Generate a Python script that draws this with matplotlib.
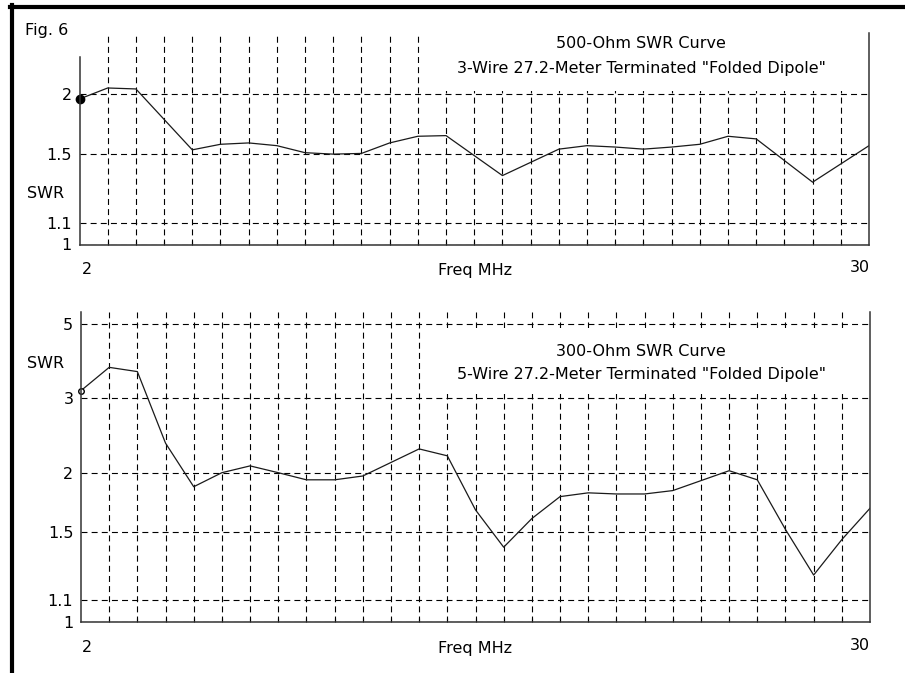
import numpy as np
import matplotlib
matplotlib.use('Agg')
import matplotlib.pyplot as plt
from matplotlib.lines import Line2D
from matplotlib.patches import Rectangle

# values (frequency in MHz, SWR)
freq_500 = [2, 3, 4, 6, 7, 8, 9, 10, 11, 12, 13, 14, 15, 17, 19, 20, 21, 22, 23, 24, 25, 26, 28, 30]
swr_500 = [1.95, 2.06, 2.05, 1.53, 1.57, 1.58, 1.56, 1.51, 1.50, 1.505, 1.58, 1.63, 1.635,
           1.36, 1.535, 1.56, 1.55, 1.535, 1.55, 1.57, 1.63, 1.61, 1.32, 1.56]

freq_300 = [2, 3, 4, 5, 6, 7, 8, 9, 10, 11, 12, 14, 15, 16, 17, 18, 19, 20, 21, 22, 23,
            25, 26, 27, 28, 29, 30]
swr_300 = [3.14, 3.64, 3.54, 2.33, 1.865, 2.0, 2.07, 2.0, 1.93, 1.93, 1.967, 2.26, 2.18,
           1.667, 1.40, 1.60, 1.777, 1.81, 1.80, 1.80, 1.83, 2.02, 1.93, 1.52, 1.233, 1.45, 1.68]

yticks_500 = [1, 1.1, 1.5, 2]
yticks_300 = [1, 1.1, 1.5, 2, 3, 5]
ylabels_500 = ['1', '1.1', '1.5', '2']
ylabels_300 = ['1', '1.1', '1.5', '2', '3', '5']

titles_500 = ['500-Ohm SWR Curve', '3-Wire 27.2-Meter Terminated "Folded Dipole"']
titles_300 = ['300-Ohm SWR Curve', '5-Wire 27.2-Meter Terminated "Folded Dipole"']

W, H = 905, 673
plt.rcParams['font.family'] = 'DejaVu Sans'
plt.rcParams['lines.scale_dashes'] = False
FS = 11.5


# SWR chart scale: linear in reflection coefficient
def fwd(s):
    s = np.asarray(s, float)
    return (s - 1) / (s + 1)


def inv(r):
    r = np.clip(np.asarray(r, float), -0.999, 0.999)
    return (1 + r) / (1 - r)


def box(l, t, r, b):
    return [l / W, 1 - b / H, (r - l) / W, (b - t) / H]


def px(x, y):
    return x / W, 1 - y / H


fig = plt.figure(figsize=(W / 100, H / 100), dpi=100)
fig.patch.set_facecolor('white')

dash = (0, (4.3, 3.0))


def setup(ax, freq, swr, top, yt, yl, open_marker):
    ax.set_yscale('function', functions=(fwd, inv))
    ax.plot(freq, swr, color='#1a1a1a', lw=0.9)
    if open_marker:
        ax.plot(freq[0], swr[0], 'o', ms=4, mfc='white', mec='black', mew=1.0, clip_on=False)
    else:
        ax.plot(freq[0], swr[0], 'o', ms=6, color='black', clip_on=False)
    ax.set_xlim(2, 30)
    ax.set_ylim(1, top)
    ax.set_xticks([])
    ax.set_xticks(np.arange(3, 30), minor=True)
    ax.set_yticks(yt)
    ax.set_yticklabels(yl, fontsize=FS)
    ax.yaxis.set_minor_locator(matplotlib.ticker.NullLocator())
    ax.tick_params(axis='y', length=0, pad=5.5)
    ax.tick_params(axis='x', which='minor', direction='in', length=3, width=0.8, color='black')
    ax.grid(True, which='minor', axis='x', color='black', lw=0.8, linestyle=dash)
    ax.grid(True, which='major', axis='y', color='black', lw=0.8, linestyle=dash)
    ax.spines['top'].set_visible(False)
    for s in ['left', 'right', 'bottom']:
        ax.spines[s].set_linewidth(1.1)
        ax.spines[s].set_color('#333333')


ax1 = fig.add_axes(box(79.5, 33, 869, 244.5))
setup(ax1, freq_500, swr_500, 2.76, yticks_500, ylabels_500, False)
ax1.spines['left'].set_bounds(1, inv((244.5 - 57) / 452))

ax2 = fig.add_axes(box(81, 312, 870, 621.7))
setup(ax2, freq_300, swr_300, 5.51, yticks_300, ylabels_300, True)

# blank areas behind the curve titles
for l, t, r, b in [(440, 28, 867.5, 91), (440, 328, 868.5, 394)]:
    x0, y0 = px(l, b)
    x1, y1 = px(r, t)
    fig.add_artist(Rectangle((x0, y0), x1 - x0, y1 - y0, transform=fig.transFigure,
                             facecolor='white', edgecolor='none', zorder=2))

# texts
fig.text(*px(25, 31), 'Fig. 6', fontsize=FS, ha='left', va='center')
for i, t in enumerate(titles_500):
    fig.text(*px(641, 44 + 24 * i), t, fontsize=FS, ha='center', va='center', zorder=3)
for i, t in enumerate(titles_300):
    fig.text(*px(641, 351 + 24 * i), t, fontsize=FS, ha='center', va='center', zorder=3)
fig.text(*px(27, 193), 'SWR', fontsize=FS, ha='left', va='center')
fig.text(*px(27, 363), 'SWR', fontsize=FS, ha='left', va='center')

for y in [270, 648]:
    fig.text(*px(82, y), '2', fontsize=FS, ha='left', va='center')
    fig.text(*px(870, y - 2), '30', fontsize=FS, ha='right', va='center')
    fig.text(*px(475, y), 'Freq MHz', fontsize=FS, ha='center', va='center')

# outer frame
fig.add_artist(Line2D([10 / W, 1], [1 - 7 / H] * 2, lw=3, color='black'))
fig.add_artist(Line2D([12 / W] * 2, [0, 1 - 5 / H], lw=3, color='black'))

fig.savefig('out.png', dpi=100)
